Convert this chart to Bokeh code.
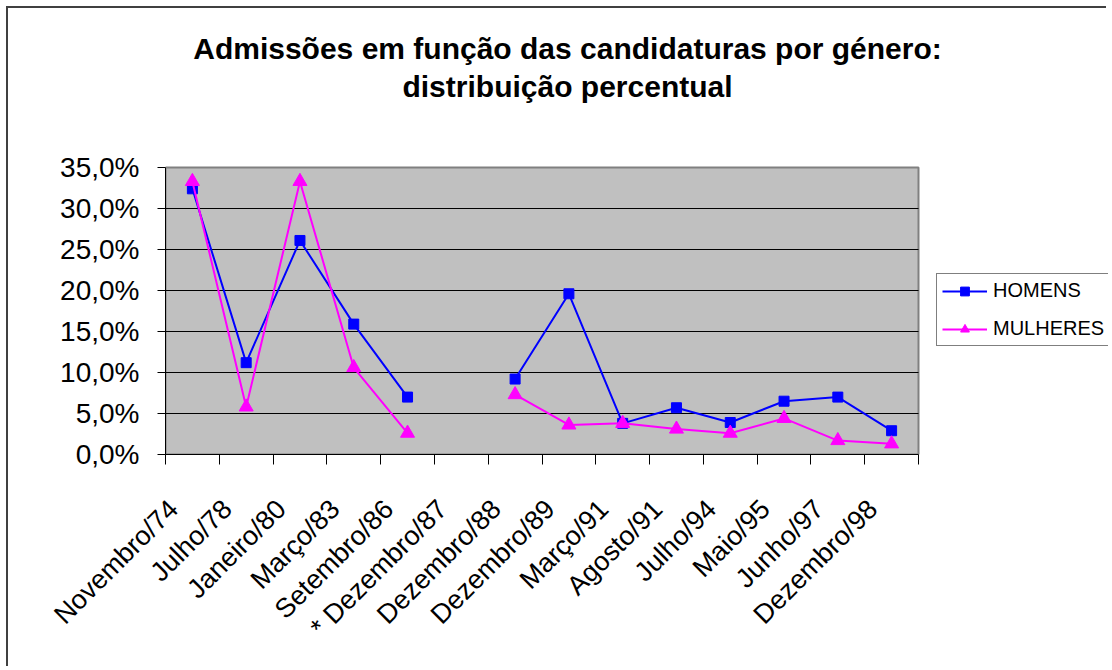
import math
from bokeh.plotting import figure
from bokeh.models import FixedTicker, Range1d, Legend, LegendItem, Label
from bokeh.embed import file_html
from bokeh.resources import INLINE

categories = ["Novembro/74", "Julho/78", "Janeiro/80", "Março/83", "Setembro/86",
              "* Dezembro/87", "Dezembro/88", "Dezembro/89", "Março/91", "Agosto/91",
              "Julho/94", "Maio/95", "Junho/97", "Dezembro/98"]
nan = float("nan")
homens = [32.4, 11.2, 26.1, 15.9, 7.0, nan, 9.2, 19.6, 3.8, 5.7, 3.9, 6.5, 7.0, 2.9]
mulheres = [33.3, 5.8, 33.3, 10.6, 2.6, nan, 7.3, 3.6, 3.8, 3.1, 2.6, 4.4, 1.7, 1.3]
y_ticks = [0, 5, 10, 15, 20, 25, 30, 35]
y_tick_labels = ["0,0%", "5,0%", "10,0%", "15,0%", "20,0%", "25,0%", "30,0%", "35,0%"]
title_lines = ["Admissões em função das candidaturas por género:", "distribuição percentual"]

n = len(categories)
xs = [i + 0.5 for i in range(n)]
y_max = y_ticks[-1]

FONT = "Liberation Sans"

# layout (pixels): the frame covers the whole figure right of / above the axes,
# the grey plotting area is a sub-rectangle of it, so the title and the legend
# can live inside the frame.
W, H = 1100, 660
BL, BB = 157, 214
area_w, area_h = 753, 287
frame_w, frame_h = W - BL, H - BB
x_end = n * frame_w / area_w
y_end = y_max * frame_h / area_h

p = figure(width=W, height=H, output_backend="svg", toolbar_location=None,
           x_range=Range1d(0, x_end), y_range=Range1d(0, y_end),
           min_border_left=BL, min_border_top=0, min_border_right=0, min_border_bottom=BB)
p.background_fill_color = "white"
p.border_fill_color = "white"
p.outline_line_color = None
p.styles = {"margin-left": "6px", "margin-top": "6px",
            "border-top": "2px solid #404040", "border-left": "2px solid #404040"}

# grey plotting area with grey border
p.quad(left=[0], right=[n], bottom=[0], top=[y_max], fill_color="#C0C0C0",
       line_color="#808080", line_width=2, level="underlay")
# horizontal grid lines
inner = y_ticks[1:-1]
p.segment(x0=[0] * len(inner), x1=[n] * len(inner), y0=inner, y1=inner,
          line_color="black", line_width=1, level="underlay")
p.xgrid.grid_line_color = None
p.ygrid.grid_line_color = None

# y axis
p.yaxis.bounds = (0, y_max)
p.yaxis.ticker = FixedTicker(ticks=y_ticks)
p.yaxis.major_label_overrides = {t: s for t, s in zip(y_ticks, y_tick_labels)}
p.yaxis.major_label_text_font = FONT
p.yaxis.major_label_text_font_size = "28px"
p.yaxis.major_label_text_color = "black"
p.yaxis.major_tick_out = 8
p.yaxis.major_tick_in = 0
p.yaxis.minor_tick_line_color = None
p.yaxis.major_label_standoff = 18
p.yaxis.axis_line_color = "black"
p.yaxis.major_tick_line_color = "black"

# x axis: labels near category centres, ticks at category boundaries
label_pos = [x - 0.35 for x in xs]
p.xaxis.bounds = (0, n)
p.xaxis.ticker = FixedTicker(ticks=label_pos, minor_ticks=list(range(n + 1)))
p.xaxis.major_label_overrides = {t: c for t, c in zip(label_pos, categories)}
p.xaxis.major_label_orientation = math.pi / 4
p.xaxis.major_label_text_font = FONT
p.xaxis.major_label_text_font_size = "27px"
p.xaxis.major_label_text_color = "black"
p.xaxis.major_tick_line_color = None
p.xaxis.major_tick_out = 0
p.xaxis.major_tick_in = 0
p.xaxis.minor_tick_out = 10
p.xaxis.minor_tick_in = 0
p.xaxis.minor_tick_line_color = "black"
p.xaxis.major_label_standoff = 40
p.xaxis.axis_line_color = "black"

BLUE = "#0000FF"
MAG = "#FF00FF"
lh = p.line(xs, homens, line_color=BLUE, line_width=2)
mh = p.scatter(xs, homens, marker="square", size=10, fill_color=BLUE, line_color=BLUE)
lm = p.line(xs, mulheres, line_color=MAG, line_width=2)
mm = p.scatter(xs, mulheres, marker="triangle", size=14, fill_color=MAG, line_color=MAG)

legend = Legend(items=[LegendItem(label="HOMENS", renderers=[lh, mh]),
                       LegendItem(label="MULHERES", renderers=[lm, mm])],
                location=(771, 108), orientation="vertical")
legend.label_text_font = FONT
legend.label_text_font_size = "20px"
legend.label_text_color = "black"
legend.border_line_color = "black"
legend.border_line_width = 1
legend.background_fill_color = "white"
legend.background_fill_alpha = 1
legend.glyph_width = 45
legend.glyph_height = 22
legend.label_height = 22
legend.label_width = 125
legend.label_standoff = 6
legend.padding = 5
legend.spacing = 15
legend.margin = 0
p.add_layout(legend, "center")

for txt, yy in zip(title_lines, [406, 368]):
    p.add_layout(Label(x=402, y=yy, x_units="screen", y_units="screen", text=txt,
                       text_font=FONT, text_font_size="30px", text_font_style="bold",
                       text_align="center", text_baseline="alphabetic", text_color="black"))

open("out.html", "w").write(file_html(p, INLINE))
